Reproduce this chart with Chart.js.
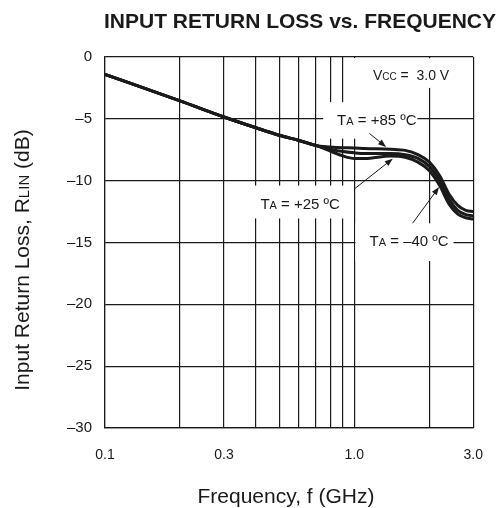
<!DOCTYPE html>
<html>
<head>
<meta charset="utf-8">
<script src="https://cdn.jsdelivr.net/npm/chart.js@4.4.0/dist/chart.umd.min.js"></script>
<style>
  html, body { margin: 0; padding: 0; background: #fff; }
</style>
</head>
<body>
<canvas id="chart01" width="502" height="508"></canvas>
<script>
// data (frequency in GHz, return loss in dB)
var freqs = [0.1, 0.2, 0.3, 0.4, 0.5, 0.6, 0.7, 0.8, 0.9, 1.0, 1.1, 1.4, 1.6, 1.8, 2.0, 2.2, 2.4, 2.6, 2.8, 3.0];
var rl85  = [-1.4, -3.55, -4.85, -5.7, -6.33, -6.75, -7.15, -7.27, -7.33, -7.35, -7.4, -7.46, -7.55, -7.9, -8.5, -9.6, -11.1, -12.0, -12.4, -12.5];
var rlM40 = [-1.4, -3.55, -4.85, -5.7, -6.33, -6.75, -7.15, -7.45, -7.65, -7.75, -7.8, -7.8, -7.9, -8.2, -8.85, -10.0, -11.5, -12.4, -12.75, -12.85];
var rl25  = [-1.4, -3.55, -4.85, -5.7, -6.33, -6.75, -7.15, -7.6, -8.0, -8.2, -8.2, -8.0, -8.1, -8.5, -9.2, -10.4, -11.9, -12.7, -13.0, -13.1];

// axes
var xGrid = [0.1, 0.2, 0.3, 0.4, 0.5, 0.6, 0.7, 0.8, 0.9, 1.0, 2.0, 3.0];
var xLabelVals = [0.1, 0.3, 1.0, 3.0];
var xLabels = ['0.1', '0.3', '1.0', '3.0'];
var yTicks = [0, -5, -10, -15, -20, -25, -30];

var FONT = '"Liberation Sans", Arial, sans-serif';
var INK = '#1a1a1a';

// text parts: [text, small?]
function drawParts(ctx, x, y, parts, size, align) {
  var small = Math.round(size * 0.72);
  var w = 0;
  parts.forEach(function (p) {
    ctx.font = (p[1] ? small : size) + 'px ' + FONT;
    w += ctx.measureText(p[0]).width;
  });
  var cx = align === 'center' ? x - w / 2 : x;
  ctx.textAlign = 'left';
  ctx.textBaseline = 'alphabetic';
  parts.forEach(function (p) {
    ctx.font = (p[1] ? small : size) + 'px ' + FONT;
    ctx.fillText(p[0], cx, y);
    cx += ctx.measureText(p[0]).width;
  });
  return w;
}

function arrow(ctx, x1, y1, x2, y2) {
  var a = Math.atan2(y2 - y1, x2 - x1);
  ctx.beginPath();
  ctx.moveTo(x1, y1);
  ctx.lineTo(x2 - 5 * Math.cos(a), y2 - 5 * Math.sin(a));
  ctx.lineWidth = 1;
  ctx.strokeStyle = INK;
  ctx.stroke();
  ctx.beginPath();
  ctx.moveTo(x2, y2);
  ctx.lineTo(x2 - 8 * Math.cos(a) + 3 * Math.sin(a), y2 - 8 * Math.sin(a) - 3 * Math.cos(a));
  ctx.lineTo(x2 - 8 * Math.cos(a) - 3 * Math.sin(a), y2 - 8 * Math.sin(a) + 3 * Math.cos(a));
  ctx.closePath();
  ctx.fillStyle = INK;
  ctx.fill();
}

// white boxes behind the labels (f1, f2, dB1, dB2)
var boxes = [
  [0.944, 2.84, -0.1, -2.5],
  [0.95, 1.05, -0.1, -3.8],
  [0.75, 1.79, -3.65, -6.6],
  [0.344, 0.99, -10.4, -13.05],
  [1.01, 2.5, -13.45, -16.5]
];

// labels: [f, dB, parts, size]
var notes = [
  [1.187, -1.46, [['V', false], ['CC', true], [' =  3.0 V', false]], 14],
  [0.853, -5.1, [['T', false], ['A', true], [' = +85 \u00baC', false]], 15],
  [0.42, -11.9, [['T', false], ['A', true], [' = +25 \u00baC', false]], 15],
  [1.151, -14.85, [['T', false], ['A', true], [' = \u201340 \u00baC', false]], 15]
];

// arrows: [f1, dB1, f2, dB2]
var arrows = [
  [1.151, -6.19, 1.341, -7.27],
  [1.004, -10.65, 1.426, -8.22],
  [1.713, -13.44, 2.188, -10.52]
];

var overlay = {
  id: 'overlay',
  beforeDatasetsDraw: function (chart) {
    var ctx = chart.ctx, xs = chart.scales.x, ys = chart.scales.y;
    ctx.save();
    ctx.fillStyle = '#fff';
    boxes.forEach(function (b) {
      var x1 = xs.getPixelForValue(b[0]), x2 = xs.getPixelForValue(b[1]);
      var y1 = ys.getPixelForValue(b[2]), y2 = ys.getPixelForValue(b[3]);
      ctx.fillRect(x1, y1, x2 - x1, y2 - y1);
    });
    ctx.restore();
  },
  afterDraw: function (chart) {
    var ctx = chart.ctx, xs = chart.scales.x, ys = chart.scales.y;
    ctx.save();
    ctx.fillStyle = INK;
    notes.forEach(function (n) {
      drawParts(ctx, xs.getPixelForValue(n[0]), ys.getPixelForValue(n[1]) + 5, n[2], n[3], 'left');
    });
    arrows.forEach(function (a) {
      arrow(ctx, xs.getPixelForValue(a[0]), ys.getPixelForValue(a[1]), xs.getPixelForValue(a[2]), ys.getPixelForValue(a[3]));
    });

    // title
    ctx.fillStyle = INK;
    ctx.font = 'bold 21px ' + FONT;
    ctx.textAlign = 'center';
    ctx.textBaseline = 'middle';
    ctx.fillText('INPUT RETURN LOSS vs. FREQUENCY', 300, 22);

    // x title
    ctx.font = '21px ' + FONT;
    ctx.fillText('Frequency, f (GHz)', 286, 497);

    // y title
    ctx.translate(22, 260);
    ctx.rotate(-Math.PI / 2);
    drawParts(ctx, 0, 7, [['Input Return Loss, R', false], ['LIN', true], [' (dB)', false]], 21, 'center');
    ctx.restore();
  }
};

var ctx = document.getElementById('chart01').getContext('2d');
var lineStyle = {
  borderColor: INK,
  borderWidth: 3,
  pointRadius: 0,
  fill: false,
  cubicInterpolationMode: 'monotone'
};

var chart = new Chart(ctx, {
  type: 'line',
  data: {
    datasets: [
      Object.assign({ label: 'TA = +85 ºC', data: freqs.map(function (f, i) { return { x: f, y: rl85[i] }; }) }, lineStyle),
      Object.assign({ label: 'TA = –40 ºC', data: freqs.map(function (f, i) { return { x: f, y: rlM40[i] }; }) }, lineStyle),
      Object.assign({ label: 'TA = +25 ºC', data: freqs.map(function (f, i) { return { x: f, y: rl25[i] }; }) }, lineStyle)
    ]
  },
  options: {
    responsive: false,
    devicePixelRatio: 1,
    animation: false,
    layout: { padding: { left: 45, right: 26, top: 57, bottom: 35 } },
    plugins: {
      legend: { display: false },
      tooltip: { enabled: false },
      title: { display: false }
    },
    scales: {
      x: {
        type: 'logarithmic',
        min: 0.1,
        max: 3.0,
        afterBuildTicks: function (scale) {
          scale.ticks = xGrid.map(function (v) { return { value: v }; });
        },
        afterFit: function (scale) { scale.height = 45; },
        grid: { color: INK, lineWidth: 1.2, drawTicks: false },
        border: { color: INK, width: 1.2 },
        ticks: {
          autoSkip: false,
          maxRotation: 0,
          padding: 19,
          color: INK,
          font: { family: FONT, size: 14 },
          callback: function (value) {
            var i = xLabelVals.indexOf(value);
            return i >= 0 ? xLabels[i] : '';
          }
        }
      },
      y: {
        type: 'linear',
        min: -30,
        max: 0,
        afterBuildTicks: function (scale) {
          scale.ticks = yTicks.map(function (v) { return { value: v }; });
        },
        afterFit: function (scale) { scale.width = 60; },
        grid: { color: INK, lineWidth: 1.2, drawTicks: false },
        border: { color: INK, width: 1.2 },
        ticks: {
          padding: 13,
          color: INK,
          font: { family: FONT, size: 15 },
          callback: function (value) {
            return value === 0 ? '0' : '\u2013' + Math.abs(value);
          }
        }
      }
    }
  },
  plugins: [overlay]
});
</script>
</body>
</html>
